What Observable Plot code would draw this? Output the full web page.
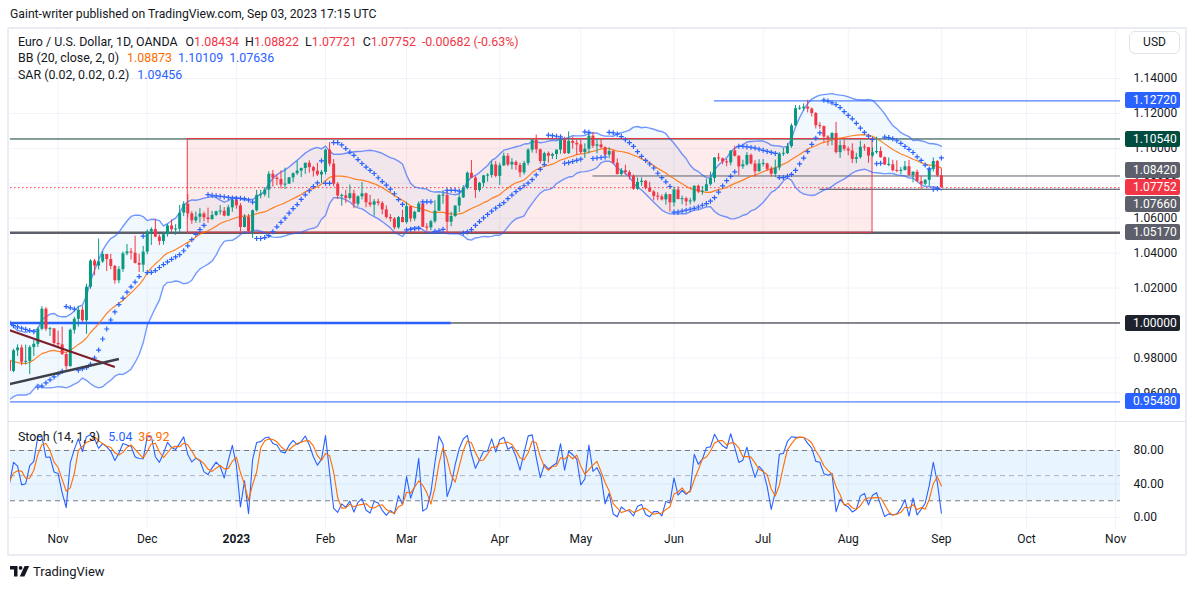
<!DOCTYPE html>
<html>
<head>
<meta charset="utf-8">
<script src="https://cdn.jsdelivr.net/npm/d3@7"></script>
<script src="https://cdn.jsdelivr.net/npm/@observablehq/plot@0.6"></script>
<style>
  html,body{margin:0;padding:0;background:#fff;}
  #root{position:relative;width:1195px;height:589px;overflow:hidden;font-family:Roboto,"Liberation Sans",Arial,sans-serif;color:#131722;}
  .a{position:absolute;white-space:nowrap;}
  .leg{font-size:12.4px;line-height:14px;}
  .leg span{margin-left:6px;}
  .lbl{position:absolute;left:1125px;width:55px;height:16px;line-height:16px;border-radius:2px;color:#fff;font-size:12px;padding-left:8px;box-sizing:border-box;}
</style>
</head>
<body>
<div id="root"></div>
<script>
// ---------------- DATA (EUR/USD daily, OANDA) ----------------
const FIRST_DAY = "2022-09-19";   // first bar (20 warm-up bars before the visible window)
const WARMUP = 20;
const open = [
1.0015,1.0026,0.9970,0.9837,0.9838, 0.9690,0.9607,0.9592,0.9736,0.9816, 0.9802,0.9825,0.9985,0.9884,0.9795, 0.9739,0.9700,0.9705,0.9705,0.9780,
0.9723,0.9841,0.9857,0.9775,0.9780, 0.9859,0.9878,0.9964,1.0079,0.9964, 0.9966,0.9883,0.9875,0.9819,0.9750, 0.9958,1.0021,1.0073,1.0013,1.0205,
1.0355,1.0326,1.0350,1.0392,1.0363, 1.0324,1.0242,1.0306,1.0396,1.0407, 1.0400,1.0341,1.0331,1.0406,1.0522, 1.0535,1.0492,1.0467,1.0506,1.0556,
1.0534,1.0537,1.0629,1.0680,1.0625, 1.0585,1.0606,1.0624,1.0602,1.0593, 1.0616,1.0637,1.0640,1.0612,1.0660, 1.0705,1.0671,1.0547,1.0605,1.0522,
1.0643,1.0731,1.0734,1.0761,1.0852, 1.0829,1.0822,1.0790,1.0795,1.0831, 1.0855,1.0870,1.0885,1.0915,1.0890, 1.0869,1.0848,1.0863,1.0990,1.0910,
1.0795,1.0727,1.0728,1.0713,1.0740, 1.0680,1.0723,1.0740,1.0688,1.0675, 1.0694,1.0685,1.0648,1.0604,1.0596, 1.0545,1.0604,1.0575,1.0666,1.0596,
1.0634,1.0682,1.0548,1.0545,1.0580, 1.0640,1.0730,1.0730,1.0577,1.0610, 1.0670,1.0717,1.0770,1.0858,1.0830, 1.0759,1.0800,1.0843,1.0845,1.0905,
1.0840,1.0900,1.0955,1.0905,1.0920, 1.0902,1.0860,1.0914,1.0990,1.1046, 1.0992,1.0925,1.0970,1.0955,1.0965, 1.0990,1.1047,1.0970,1.1040,1.1029,
1.1020,1.0976,1.0995,1.1070,1.1012, 1.1020,1.1004,1.0962,1.0982,1.0915, 1.0850,1.0872,1.0862,1.0840,1.0766, 1.0805,1.0812,1.0772,1.0750,1.0725,
1.0722,1.0705,1.0735,1.0688,1.0762, 1.0707,1.0712,1.0694,1.0698,1.0783, 1.0750,1.0754,1.0792,1.0828,1.0945, 1.0940,1.0923,1.0917,1.0985,1.0955,
1.0894,1.0906,1.0960,1.0911,1.0866, 1.0911,1.0911,1.0880,1.0852,1.0888, 1.0968,1.0970,1.1010,1.1129,1.1227, 1.1228,1.1236,1.1225,1.1200,1.1130,
1.1125,1.1065,1.1056,1.1085,1.0976, 1.1016,1.0995,1.0985,1.0937,1.0947, 1.1006,1.1004,1.0956,1.0975,1.0982, 1.0947,1.0905,1.0906,1.0872,1.0870,
1.0873,1.0895,1.0845,1.0863,1.0810, 1.0795,1.0817,1.0880,1.0925,1.0843
];
const high = [
1.0050,1.0051,0.9976,0.9908,0.9852, 0.9709,0.9670,0.9747,0.9816,0.9853, 0.9850,0.9999,0.9999,0.9896,0.9798, 0.9750,0.9764,0.9739,0.9808,0.9805,
0.9850,0.9875,0.9873,0.9873,0.9870, 0.9900,0.9976,1.0094,1.0088,0.9975, 0.9968,0.9953,0.9977,0.9829,0.9965, 1.0033,1.0096,1.0093,1.0222,1.0363,
1.0365,1.0481,1.0409,1.0393,1.0394, 1.0330,1.0323,1.0406,1.0449,1.0427, 1.0497,1.0394,1.0439,1.0533,1.0545, 1.0594,1.0505,1.0519,1.0564,1.0590,
1.0563,1.0673,1.0695,1.0735,1.0637, 1.0636,1.0655,1.0635,1.0658,1.0639, 1.0640,1.0672,1.0661,1.0674,1.0714, 1.0712,1.0684,1.0620,1.0622,1.0647,
1.0760,1.0760,1.0776,1.0867,1.0874, 1.0845,1.0871,1.0887,1.0834,1.0860, 1.0927,1.0888,1.0915,1.0929,1.0897, 1.0914,1.0874,1.0995,1.1033,1.0936,
1.0805,1.0739,1.0760,1.0790,1.0760, 1.0728,1.0805,1.0744,1.0731,1.0707, 1.0709,1.0695,1.0671,1.0621,1.0604, 1.0610,1.0646,1.0691,1.0667,1.0640,
1.0694,1.0694,1.0569,1.0588,1.0700, 1.0736,1.0759,1.0760,1.0635,1.0670, 1.0733,1.0787,1.0865,1.0930,1.0838, 1.0805,1.0845,1.0855,1.0926,1.0925,
1.0915,1.0973,1.0970,1.0941,1.0929, 1.0915,1.0926,1.0998,1.1050,1.1076, 1.0996,1.0978,1.0980,1.0972,1.0990, 1.1051,1.1064,1.1095,1.1064,1.1046,
1.1048,1.1026,1.1091,1.1092,1.1054, 1.1055,1.1009,1.1004,1.0987,1.0940, 1.0885,1.0904,1.0872,1.0848,1.0830, 1.0831,1.0816,1.0806,1.0759,1.0746,
1.0734,1.0746,1.0736,1.0778,1.0779, 1.0727,1.0720,1.0714,1.0786,1.0790, 1.0782,1.0823,1.0864,1.0947,1.0971, 1.0945,1.0937,1.0985,1.1012,1.0957,
1.0932,1.0976,1.0968,1.0930,1.0935, 1.0936,1.0915,1.0895,1.0933,1.0976, 1.1000,1.1028,1.1140,1.1245,1.1245, 1.1255,1.1276,1.1232,1.1205,1.1147,
1.1128,1.1073,1.1090,1.1149,1.1044, 1.1046,1.1008,1.1026,1.0972,1.1042, 1.1023,1.1005,1.1004,1.1065,1.1007, 1.0951,1.0945,1.0932,1.0929,1.0891,
1.0925,1.0931,1.0866,1.0875,1.0840, 1.0822,1.0882,1.09456,1.0930,1.08822
];
const low = [
0.9966,0.9969,0.9809,0.9807,0.9668, 0.9554,0.9572,0.9536,0.9636,0.9738, 0.9751,0.9813,0.9836,0.9785,0.9724, 0.9669,0.9680,0.9671,0.9632,0.9707,
0.9715,0.9808,0.9755,0.9760,0.9704, 0.9808,0.9860,0.9956,0.9952,0.9923, 0.9870,0.9853,0.9814,0.9730,0.9747, 0.9936,0.9976,1.0003,0.9935,1.0193,
1.0270,1.0303,1.0341,1.0295,1.0305, 1.0222,1.0226,1.0290,1.0385,1.0360, 1.0338,1.0289,1.0290,1.0391,1.0444, 1.0488,1.0443,1.0446,1.0492,1.0518,
1.0502,1.0519,1.0609,1.0602,1.0565, 1.0571,1.0572,1.0580,1.0572,1.0587, 1.0609,1.0617,1.0608,1.0609,1.0634, 1.0652,1.0520,1.0545,1.0513,1.0484,
1.0636,1.0711,1.0722,1.0713,1.0779, 1.0787,1.0767,1.0765,1.0795,1.0803, 1.0844,1.0833,1.0851,1.0858,1.0836, 1.0840,1.0800,1.0847,1.0895,1.0780,
1.0707,1.0669,1.0685,1.0704,1.0655, 1.0664,1.0705,1.0660,1.0662,1.0612, 1.0670,1.0620,1.0595,1.0577,1.0533, 1.0537,1.0574,1.0566,1.0577,1.0582,
1.0632,1.0547,1.0525,1.0528,1.0570, 1.0640,1.0680,1.0516,1.0551,1.0605, 1.0633,1.0713,1.0762,1.0826,1.0713, 1.0749,1.0778,1.0807,1.0830,1.0832,
1.0788,1.0897,1.0895,1.0878,1.0874, 1.0832,1.0847,1.0900,1.0973,1.0969, 1.0911,1.0910,1.0915,1.0937,1.0936, 1.0967,1.0965,1.0965,1.0995,1.0961,
1.0965,1.0942,1.0967,1.1000,1.0968, 1.0995,1.0955,1.0941,1.0907,1.0848, 1.0840,1.0846,1.0819,1.0760,1.0760, 1.0783,1.0762,1.0747,1.0700,1.0700,
1.0699,1.0675,1.0635,1.0664,1.0706, 1.0677,1.0668,1.0676,1.0688,1.0741, 1.0732,1.0753,1.0784,1.0803,1.0924, 1.0906,1.0895,1.0900,1.0950,1.0844,
1.0880,1.0898,1.0905,1.0835,1.0866, 1.0894,1.0870,1.0835,1.0833,1.0872, 1.0954,1.0965,1.1001,1.1127,1.1218, 1.1212,1.1203,1.1180,1.1111,1.1109,
1.1035,1.1012,1.1015,1.0968,1.0943, 1.0983,1.0958,1.0913,1.0912,1.0939, 1.0983,1.0915,1.0948,1.0966,1.0944, 1.0902,1.0895,1.0866,1.0861,1.0849,
1.0871,1.0841,1.0802,1.0806,1.0766, 1.0785,1.0781,1.0865,1.0834,1.07721
];
const close = [
1.0026,0.9970,0.9837,0.9838,0.9690, 0.9607,0.9592,0.9736,0.9816,0.9802, 0.9825,0.9985,0.9884,0.9795,0.9739, 0.9700,0.9705,0.9705,0.9780,0.9723,
0.9841,0.9857,0.9775,0.9780,0.9859, 0.9878,0.9964,1.0079,0.9964,0.9966, 0.9883,0.9875,0.9819,0.9750,0.9958, 1.0021,1.0073,1.0013,1.0205,1.0355,
1.0326,1.0350,1.0392,1.0363,1.0324, 1.0242,1.0306,1.0396,1.0407,1.0400, 1.0341,1.0331,1.0406,1.0522,1.0535, 1.0492,1.0467,1.0506,1.0556,1.0534,
1.0537,1.0629,1.0680,1.0625,1.0585, 1.0606,1.0624,1.0602,1.0593,1.0616, 1.0637,1.0640,1.0612,1.0660,1.0705, 1.0671,1.0547,1.0605,1.0522,1.0643,
1.0731,1.0734,1.0761,1.0852,1.0829, 1.0822,1.0790,1.0795,1.0831,1.0855, 1.0870,1.0885,1.0915,1.0890,1.0869, 1.0848,1.0863,1.0990,1.0910,1.0795,
1.0727,1.0728,1.0713,1.0740,1.0680, 1.0723,1.0740,1.0688,1.0675,1.0694, 1.0685,1.0648,1.0604,1.0596,1.0545, 1.0604,1.0575,1.0666,1.0596,1.0634,
1.0682,1.0548,1.0545,1.0580,1.0640, 1.0730,1.0730,1.0577,1.0610,1.0670, 1.0717,1.0770,1.0858,1.0830,1.0759, 1.0800,1.0843,1.0845,1.0905,1.0840,
1.0900,1.0955,1.0905,1.0920,1.0902, 1.0860,1.0914,1.0990,1.1046,1.0992, 1.0925,1.0970,1.0955,1.0965,1.0990, 1.1047,1.0970,1.1040,1.1029,1.1020,
1.0976,1.0995,1.1070,1.1012,1.1020, 1.1004,1.0962,1.0982,1.0915,1.0850, 1.0872,1.0862,1.0840,1.0766,1.0805, 1.0812,1.0772,1.0750,1.0725,1.0722,
1.0705,1.0735,1.0688,1.0762,1.0707, 1.0712,1.0694,1.0698,1.0783,1.0750, 1.0754,1.0792,1.0828,1.0945,1.0940, 1.0923,1.0917,1.0985,1.0955,1.0894,
1.0906,1.0960,1.0911,1.0866,1.0911, 1.0911,1.0880,1.0852,1.0888,1.0968, 1.0970,1.1010,1.1129,1.1227,1.1228, 1.1236,1.1225,1.1200,1.1130,1.1125,
1.1065,1.1056,1.1085,1.0976,1.1016, 1.0995,1.0985,1.0937,1.0947,1.1006, 1.1004,1.0956,1.0975,1.0982,1.0947, 1.0905,1.0906,1.0872,1.0870,1.0873,
1.0895,1.0845,1.0863,1.0810,1.0795, 1.0817,1.0880,1.0925,1.0843,1.07752
];
const monthNames = ["Jan","Feb","Mar","Apr","May","Jun","Jul","Aug","Sep","Oct","Nov","Dec"];
const priceTicks = [0.96,0.98,1.00,1.02,1.04,1.06,1.08,1.10,1.12,1.14];
const stochTicks = [0,40,80];
const stochBands = [80,50,20];
// horizontal levels (price, start date or null = whole chart)
const levelPrices = [1.1272, 1.1054, 1.0842, 1.07752, 1.0766, 1.0517, 1.0, 0.9548];
const levelFrom   = ["2023-06-15", null, "2023-05-04", null, "2023-07-21", null, null, null];
const levelColors = ["#2962ff", "#0b3d33", "#5d606b", "#f23645", "#434651", "#5d606b", "#131722", "#2962ff"];
const levelLabelBg = ["#2962ff", "#004d40", "#5d606b", "#f23645", "#5d606b", "#5d606b", "#1e222d", "#2962ff"];
const levelWidths = [1, 1, 1, 1, 1, 2.5, 1, 1];
const levelDashes = [null, null, null, "1.5,2.5", null, null, null, null];
// parity segment (blue, thick) ending
const parityPrice = 1.0, parityEnd = "2023-03-16";
// range rectangle
const zoneStart = "2022-12-15", zoneEnd = "2023-08-09", zoneLow = 1.0517, zoneHigh = 1.1054;
// trend lines
const trendStart = ["2022-10-14", "2022-10-14"];
const trendStartPrice = [0.9959, 0.9650];
const trendEnd = ["2022-11-21", "2022-11-22"];
const trendEndPrice = [0.9748, 0.9794];
const trendColors = ["#7f1d2a", "#3d3f4a"];
const trendWidths = [2, 2.5];

// ---------------- layout constants ----------------
const W = 1195;
const xDomain = [-0.75, 273.2];
const FONT = 'Roboto,"Liberation Sans",Arial,sans-serif';
const UP = "#089981", DN = "#f23645";

// ---------------- calendar ----------------
const days = [];
{
  let d = new Date(FIRST_DAY + "T00:00:00Z");
  const end = new Date("2023-11-30T00:00:00Z");
  while (d <= end) {
    const wd = d.getUTCDay();
    if (wd !== 0 && wd !== 6) days.push(d.toISOString().slice(0, 10));
    d = new Date(d.getTime() + 86400000);
  }
}
const idxOf = s => days.indexOf(s) - WARMUP;
const monthTicks = [];
for (let i = 1; i < days.length; i++) {
  if (days[i].slice(5, 7) !== days[i - 1].slice(5, 7)) {
    const x = i - WARMUP;
    if (x >= xDomain[0] && x <= xDomain[1]) {
      const m = +days[i].slice(5, 7) - 1;
      monthTicks.push({x, label: m === 0 ? days[i].slice(0, 4) : monthNames[m], year: m === 0});
    }
  }
}
const tickLabel = new Map(monthTicks.map(t => [t.x, t.label]));

// ---------------- indicators ----------------
const n = close.length;
const bars = close.map((c, i) => ({x: i - WARMUP, o: open[i], h: high[i], l: low[i], c}));
const bb = [];
for (let i = 19; i < n; i++) {
  const w = close.slice(i - 19, i + 1);
  const m = d3.mean(w);
  const sd = Math.sqrt(d3.mean(w, v => (v - m) ** 2));
  bb.push({x: i - WARMUP, basis: m, up: m + 2 * sd, lo: m - 2 * sd});
}
const st = [];
for (let i = 13; i < n; i++) {
  const hh = d3.max(high.slice(i - 13, i + 1)), ll = d3.min(low.slice(i - 13, i + 1));
  st.push({x: i - WARMUP, k: 100 * (close[i] - ll) / (hh - ll)});
}
st.forEach((p, j) => { if (j >= 2) p.d = (st[j].k + st[j - 1].k + st[j - 2].k) / 3; });
const stD = st.filter(p => p.d !== undefined);

const sar = [];
{
  let result, maxMin, acc, isBelow;
  for (let i = 1; i < n; i++) {
    let first = false;
    if (i === 1) {
      if (close[1] > close[0]) { isBelow = true; maxMin = high[1]; result = low[0]; }
      else { isBelow = false; maxMin = low[1]; result = high[0]; }
      first = true; acc = 0.02;
    }
    result = result + acc * (maxMin - result);
    if (isBelow) {
      if (result > low[i]) { first = true; isBelow = false; result = Math.max(high[i], maxMin); maxMin = low[i]; acc = 0.02; }
    } else {
      if (result < high[i]) { first = true; isBelow = true; result = Math.min(low[i], maxMin); maxMin = high[i]; acc = 0.02; }
    }
    if (!first) {
      if (isBelow) { if (high[i] > maxMin) { maxMin = high[i]; acc = Math.min(acc + 0.02, 0.2); } }
      else { if (low[i] < maxMin) { maxMin = low[i]; acc = Math.min(acc + 0.02, 0.2); } }
    }
    if (isBelow) { result = Math.min(result, low[i - 1]); if (i > 1) result = Math.min(result, low[i - 2]); }
    else { result = Math.max(result, high[i - 1]); if (i > 1) result = Math.max(result, high[i - 2]); }
    sar.push({x: i - WARMUP, v: result});
  }
}

// drawings
const levels = levelPrices.map((p, k) => ({
  p, x1: levelFrom[k] ? idxOf(levelFrom[k]) : xDomain[0], x2: xDomain[1],
  color: levelColors[k], w: levelWidths[k], dash: levelDashes[k], bg: levelLabelBg[k]
}));
const zone = [{x1: idxOf(zoneStart), x2: idxOf(zoneEnd), lo: zoneLow, hi: zoneHigh}];
const parity = [{p: parityPrice, x1: xDomain[0], x2: idxOf(parityEnd)}];
const trends = trendStart.map((s, k) => ({
  x1: idxOf(s), y1: trendStartPrice[k], x2: idxOf(trendEnd[k]), y2: trendEndPrice[k], color: trendColors[k], w: trendWidths[k]
}));

const minBody = 0.0006;
const bodyA = d => Math.abs(d.c - d.o) < minBody ? (d.o + d.c) / 2 - minBody / 2 : d.o;
const bodyB = d => Math.abs(d.c - d.o) < minBody ? (d.o + d.c) / 2 + minBody / 2 : d.c;
const candleColor = d => d.c >= d.o ? UP : DN;

// ---------------- price pane ----------------
const price = Plot.plot({
  width: W, height: 394,
  marginLeft: 10, marginRight: 75, marginTop: 0, marginBottom: 0,
  x: {domain: xDomain, axis: null},
  y: {domain: [0.94301, 1.16867], axis: null},
  color: {type: "identity"},
  style: {fontFamily: FONT, fontSize: "12px", color: "#131722", background: "transparent", overflow: "visible"},
  marks: [
    Plot.ruleX(monthTicks, {x: "x", stroke: "#f0f3fa"}),
    Plot.ruleY(priceTicks, {stroke: "#f0f3fa"}),
    Plot.rect(zone, {x1: "x1", x2: "x2", y1: "lo", y2: "hi", fill: "#f23645", fillOpacity: 0.1, clip: true}),
    Plot.areaY(bb, {x: "x", y1: "lo", y2: "up", fill: "#2196f3", fillOpacity: 0.06, clip: true}),
    ...levels.map(L => Plot.ruleY([L], {y: "p", x1: "x1", x2: "x2", stroke: L.color, strokeWidth: L.w, strokeDasharray: L.dash, clip: true})),
    Plot.ruleY(parity, {y: "p", x1: "x1", x2: "x2", stroke: "#2962ff", strokeWidth: 2.5, clip: true}),
    Plot.rect(zone, {x1: "x1", x2: "x2", y1: "lo", y2: "hi", fill: "none", stroke: "#f23645", strokeWidth: 1, clip: true}),
    Plot.line(bb, {x: "x", y: "up", stroke: "#2962ff", strokeOpacity: 0.65, strokeWidth: 1.4, clip: true}),
    Plot.line(bb, {x: "x", y: "lo", stroke: "#2962ff", strokeOpacity: 0.65, strokeWidth: 1.4, clip: true}),
    Plot.line(bb, {x: "x", y: "basis", stroke: "#ff6d00", strokeOpacity: 0.85, strokeWidth: 1.2, clip: true}),
    Plot.ruleX(bars, {x: "x", y1: "l", y2: "h", stroke: candleColor, strokeWidth: 1, clip: true}),
    Plot.ruleX(bars, {x: "x", y1: bodyA, y2: bodyB, stroke: candleColor, strokeWidth: 3, clip: true}),
    Plot.dot(sar, {x: "x", y: "v", symbol: "plus", r: 1.75, stroke: "#2962ff", strokeWidth: 1.2, clip: true}),
    ...trends.map(T => Plot.link([T], {x1: "x1", y1: "y1", x2: "x2", y2: "y2", stroke: T.color, strokeWidth: T.w, clip: true})),
    Plot.axisY(priceTicks, {anchor: "right", tickSize: 0, tickPadding: 13, tickFormat: d => d.toFixed(5), label: null})
  ]
});

// ---------------- stochastic pane ----------------
const stoch = Plot.plot({
  width: W, height: 133,
  marginLeft: 10, marginRight: 75, marginTop: 0, marginBottom: 26,
  x: {domain: xDomain, axis: null},
  y: {domain: [0, 80], range: [95, 28], axis: null},
  color: {type: "identity"},
  style: {fontFamily: FONT, fontSize: "12px", color: "#131722", background: "transparent", overflow: "visible"},
  marks: [
    Plot.ruleX(monthTicks, {x: "x", stroke: "#f0f3fa"}),
    Plot.ruleY(stochTicks, {stroke: "#f0f3fa"}),
    Plot.rect([{a: stochBands[2], b: stochBands[0]}], {x1: () => xDomain[0], x2: () => xDomain[1], y1: "a", y2: "b", fill: "#2196f3", fillOpacity: 0.1}),
    Plot.ruleY(stochBands, {stroke: "#787b86", strokeDasharray: "5,4", strokeOpacity: d => d === 50 ? 0.55 : 1}),
    Plot.line(st, {x: "x", y: "k", stroke: "#2962ff", strokeWidth: 1.1, clip: true}),
    Plot.line(stD, {x: "x", y: "d", stroke: "#ff6d00", strokeWidth: 1.1, clip: true}),
    Plot.axisY(stochTicks, {anchor: "right", tickSize: 0, tickPadding: 13, tickFormat: d => d.toFixed(2), label: null}),
    Plot.axisX(monthTicks.filter(t => !t.year).map(t => t.x), {anchor: "bottom", tickSize: 0, tickPadding: 5, tickFormat: d => tickLabel.get(d), label: null}),
    Plot.axisX(monthTicks.filter(t => t.year).map(t => t.x), {anchor: "bottom", tickSize: 0, tickPadding: 5, tickFormat: d => tickLabel.get(d), label: null, fontWeight: "bold"})
  ]
});

// ---------------- assemble ----------------
const root = document.getElementById("root");
const add = html => root.insertAdjacentHTML("beforeend", html);

add(`<div class="a" style="left:10px;top:6px;font-size:12.2px;line-height:16px;color:#131722">Gaint-writer published on TradingView.com, Sep 03, 2023 17:15 UTC</div>`);
add(`<div class="a" style="left:7px;top:27px;width:1176px;height:525px;border:2px solid #e9ecf2;border-radius:2px"></div>`);

price.style.position = "absolute"; price.style.left = "0px"; price.style.top = "28px";
stoch.style.position = "absolute"; stoch.style.left = "0px"; stoch.style.top = "422px";
root.appendChild(price);
root.appendChild(stoch);

add(`<div class="a" style="left:8px;top:421px;width:1177px;height:1px;background:#e0e3eb"></div>`);

// legends
add(`<div class="a leg" style="left:18px;top:35px">Euro / U.S. Dollar, 1D, OANDA<span style="margin-left:8px">O<span style="margin:0;color:#f23645">1.08434</span></span><span>H<span style="margin:0;color:#f23645">1.08822</span></span><span>L<span style="margin:0;color:#f23645">1.07721</span></span><span>C<span style="margin:0;color:#f23645">1.07752</span></span><span style="color:#f23645">-0.00682 (-0.63%)</span></div>`);
add(`<div class="a leg" style="left:18px;top:51px">BB (20, close, 2, 0)<span style="margin-left:8px;color:#ff6d00">1.08873</span><span style="color:#2962ff">1.10109</span><span style="color:#2962ff">1.07636</span></div>`);
add(`<div class="a leg" style="left:18px;top:68px">SAR (0.02, 0.02, 0.2)<span style="margin-left:8px;color:#2962ff">1.09456</span></div>`);
add(`<div class="a leg" style="left:18px;top:430px">Stoch (14, 1, 3)<span style="margin-left:8px;color:#2962ff">5.04</span><span style="color:#ff6d00">36.92</span></div>`);

// USD box
add(`<div class="a" style="left:1129px;top:31px;width:49px;height:21px;border:1px solid #e0e3eb;border-radius:6px;font-size:12px;line-height:21px;text-align:center">USD</div>`);

// price labels (stacked so they don't overlap, current price fixed)
{
  const ys = price.scale("y");
  const H = 17;
  const labs = levels.map((L, k) => ({L, y: 28 + ys.apply(L.p), anchor: k === 3}))
    .sort((a, b) => a.y - b.y);
  const ai = labs.findIndex(d => d.anchor);
  for (let i = ai - 1; i >= 0; i--) labs[i].y = Math.min(labs[i].y, labs[i + 1].y - H);
  for (let i = ai + 1; i < labs.length; i++) labs[i].y = Math.max(labs[i].y, labs[i - 1].y + H);
  for (const d of labs) {
    add(`<div class="lbl" style="top:${(d.y - 8).toFixed(1)}px;background:${d.L.bg}">${d.L.p.toFixed(5)}</div>`);
  }
}

// footer logo
add(`<svg class="a" style="left:10px;top:566px" width="20" height="11" viewBox="0 0 20 11"><path d="M0 0h7.5v10.5H4V3.6H0z" fill="#131722"/><circle cx="10.6" cy="1.9" r="1.9" fill="#131722"/><path d="M14.6 0h4.6l-4.8 10.5H9.8z" fill="#131722"/></svg>`);
add(`<div class="a" style="left:33px;top:564px;font-size:13px;line-height:16px;color:#131722">TradingView</div>`);
</script>
</body>
</html>
